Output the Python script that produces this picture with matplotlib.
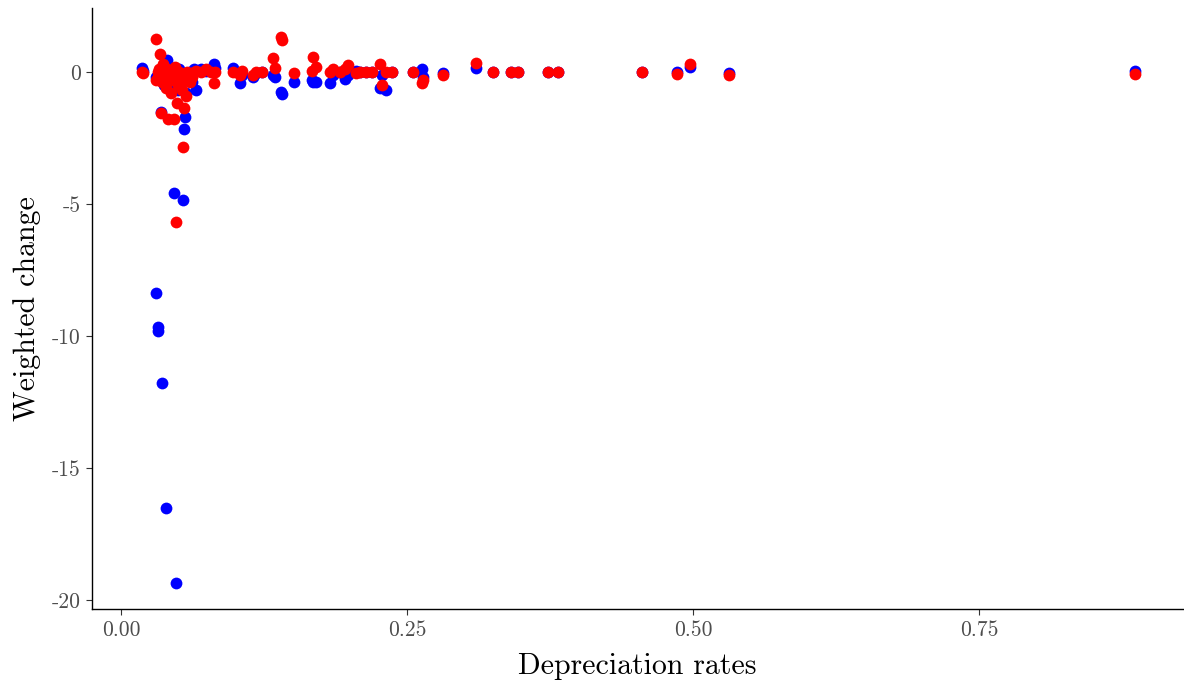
import numpy as np
import matplotlib
matplotlib.use('Agg')
import matplotlib.pyplot as plt

plt.rcParams['font.family'] = ['cmr10', 'DejaVu Serif']

# depreciation rate of each asset (shared x)
dep_rate = [0.018, 0.019, 0.031, 0.031, 0.032, 0.032, 0.033, 0.034, 0.035, 0.036,
            0.037, 0.038, 0.039, 0.040, 0.041, 0.042, 0.043, 0.044, 0.045, 0.046,
            0.047, 0.048, 0.049, 0.050, 0.051, 0.052, 0.053, 0.054, 0.055, 0.056,
            0.057, 0.058, 0.060, 0.062, 0.064, 0.066, 0.070, 0.074, 0.079, 0.081,
            0.082, 0.098, 0.104, 0.106, 0.115, 0.118, 0.123, 0.133, 0.135, 0.140,
            0.141, 0.151, 0.167, 0.168, 0.170, 0.183, 0.185, 0.191, 0.196, 0.198,
            0.205, 0.209, 0.214, 0.219, 0.226, 0.228, 0.232, 0.237, 0.255, 0.263,
            0.264, 0.281, 0.310, 0.325, 0.341, 0.347, 0.373, 0.382, 0.455, 0.486,
            0.497, 0.531, 0.886]

# weighted change, blue series
change_blue = [0.15, 0.05, -8.37, -0.2, -9.66, -9.82, -0.1, -0.3, -1.5, -11.8,
               0.2, -0.5, -16.5, 0.45, -0.3, 0.1, -0.6, -0.2, 0.0, -4.6,
               -0.4, -19.35, -0.1, -0.7, 0.1, -0.5, -0.2, -4.85, -2.15, -1.7,
               -0.8, -0.3, 0.0, -0.4, 0.1, -0.7, 0.1, 0.05, 0.1, 0.3,
               0.15, 0.15, -0.42, -0.1, -0.2, -0.05, 0.0, -0.1, -0.2, -0.75,
               -0.85, -0.38, -0.3, -0.38, -0.4, -0.42, -0.1, 0.0, -0.25, -0.1,
               0.05, 0.0, 0.0, 0.0, -0.6, -0.1, -0.68, 0.0, 0.0, 0.1,
               -0.2, -0.05, 0.15, 0.0, 0.0, 0.0, 0.0, 0.0, -0.02, 0.0,
               0.2, -0.05, 0.02]

# weighted change, red series
change_red = [0.0, -0.05, 1.25, -0.3, 0.0, -0.2, 0.1, 0.68, -1.55, -0.4,
              0.3, -0.1, -0.6, 0.1, -1.8, -0.2, 0.0, -0.8, -0.3, -1.78,
              0.2, -5.7, -1.17, -0.5, 0.0, -0.2, -0.7, -2.86, -1.38, -0.3,
              -0.9, 0.0, -0.4, -0.2, 0.0, 0.05, 0.0, 0.1, 0.0, -0.42,
              0.0, 0.0, -0.1, 0.05, -0.1, 0.0, 0.0, 0.53, 0.15, 1.33,
              1.22, -0.05, 0.05, 0.57, 0.2, 0.0, 0.1, 0.0, 0.1, 0.27,
              -0.05, 0.0, 0.0, 0.0, 0.3, -0.5, 0.0, 0.0, 0.0, -0.42,
              -0.3, -0.12, 0.34, 0.0, 0.0, 0.0, 0.0, 0.0, 0.0, -0.08,
              0.3, -0.12, -0.08]

xticks = [0.0, 0.25, 0.5, 0.75]
xticklabels = ['0.00', '0.25', '0.50', '0.75']
yticks = [0, -5, -10, -15, -20]
yticklabels = ['0', '-5', '-10', '-15', '-20']

fig = plt.figure(figsize=(11.84, 6.82), dpi=100)
ax = fig.add_axes([92/1184, 73/682, 1091/1184, 601/682])

ax.scatter(dep_rate, change_blue, s=72, c='#0000FF', linewidths=0, zorder=2)
ax.scatter(dep_rate, change_red, s=72, c='#FF0000', linewidths=0, zorder=3)

ax.set_xlim(-0.0253, 0.928)
ax.set_ylim(-20.34, 2.42)
ax.set_xticks(xticks)
ax.set_xticklabels(xticklabels)
ax.set_yticks(yticks)
ax.set_yticklabels(yticklabels)

for s in ['top', 'right']:
    ax.spines[s].set_visible(False)
for s in ['left', 'bottom']:
    ax.spines[s].set_linewidth(1.0)
ax.tick_params(labelsize=15.5, labelcolor='#4d4d4d', length=4, width=0.8,
               color='#333333', pad=4)

ax.set_xlabel('Depreciation rates', fontsize=21.5, labelpad=9)
ax.set_ylabel('Weighted change', fontsize=21.5, labelpad=8)

fig.savefig('out.png', dpi=100)
